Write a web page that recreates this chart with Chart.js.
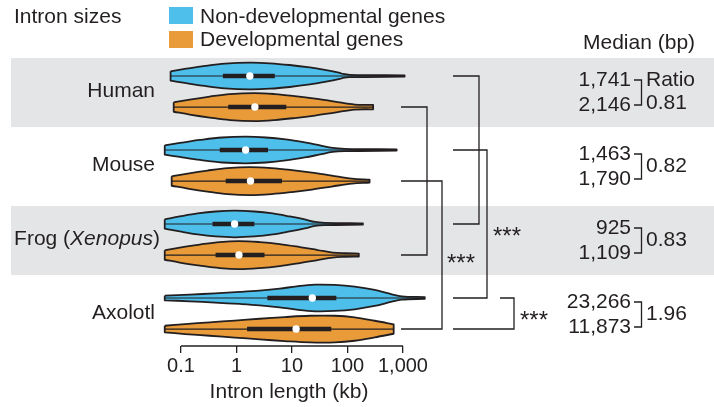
<!DOCTYPE html>
<html>
<head>
<meta charset="utf-8">
<script src="https://cdn.jsdelivr.net/npm/chart.js@4/dist/chart.umd.min.js"></script>
<style>
  html, body { margin: 0; padding: 0; background: #fff; }
  canvas { display: block; }
</style>
</head>
<body>
<canvas id="chart" width="714" height="407"></canvas>
<script>
const species = ['Human', 'Mouse', 'Frog', 'Axolotl'];
const medianNonDev = [1741, 1463, 925, 23266];
const medianDev = [2146, 1790, 1109, 11873];
const ratios = ['0.81', '0.82', '0.83', '1.96'];
const q1NonDev = [0.57, 0.50, 0.37, 3.6];
const q3NonDev = [4.9, 3.7, 2.1, 63];
const q1Dev = [0.71, 0.64, 0.42, 1.55];
const q3Dev = [7.9, 6.6, 3.2, 51];
const tickValues = [0.1, 1, 10, 100, 1000];
const tickLabels = ['0.1', '1', '10', '100', '1,000'];

// violin outlines: intron length (kb) and half width
const humanNdKb = [0.065, 0.117, 0.27, 0.62, 1.74, 4.0, 9.1, 21, 39, 73, 83, 110, 1070];
const humanNdDen = [4.7, 7, 10, 12.3, 13.3, 12.7, 11, 8.5, 6, 3, 2, 1.2, 0.6];
const humanDevKb = [0.074, 0.144, 0.33, 0.76, 2.14, 4.9, 11.2, 26, 59, 135, 290];
const humanDevDen = [4.7, 7.5, 10.5, 13, 14, 13, 11, 8.5, 5.5, 2.5, 2.2];
const mouseNdKb = [0.051, 0.095, 0.22, 0.55, 1.47, 3.4, 7.7, 17, 32, 54, 89, 770];
const mouseNdDen = [4.7, 7, 10, 12.5, 13.3, 12.5, 10.5, 7.5, 4.5, 2, 1.2, 0.6];
const mouseDevKb = [0.068, 0.132, 0.30, 0.69, 1.74, 4.3, 10, 23, 52, 120, 250];
const mouseDevDen = [4.7, 7.5, 10.5, 13, 14, 13, 11, 8.5, 5.5, 2.5, 1.5];
const frogNdKb = [0.051, 0.095, 0.2, 0.42, 0.93, 2.1, 4.5, 9.1, 17, 26, 39, 190];
const frogNdDen = [4.7, 7.5, 10.5, 12.5, 13.3, 12.5, 10.5, 7.5, 4.5, 2, 1.2, 0.6];
const frogDevKb = [0.051, 0.095, 0.22, 0.5, 1.11, 2.6, 6.0, 13.8, 29, 54, 89, 160];
const frogDevDen = [4.7, 7.5, 10.5, 13, 14, 13, 11, 8, 5, 2.5, 1.8, 1.5];
const axNdKb = [0.051, 0.145, 0.41, 1.15, 2.6, 6.0, 12.2, 26, 59, 135, 310, 630, 950, 2470];
const axNdDen = [2.3, 3.3, 4.7, 6, 7.3, 9.3, 11.7, 13.3, 13, 11.3, 8, 3.7, 1.7, 0.8];
const axDevKb = [0.051, 0.118, 0.33, 0.93, 2.6, 7.4, 21, 59, 135, 310, 680];
const axDevDen = [3.3, 5, 6.7, 8.5, 10.3, 12, 13.3, 13.3, 11.7, 8.3, 4.7];

const ndShapes = [[humanNdKb, humanNdDen], [mouseNdKb, mouseNdDen], [frogNdKb, frogNdDen], [axNdKb, axNdDen]];
const devShapes = [[humanDevKb, humanDevDen], [mouseDevKb, mouseDevDen], [frogDevKb, frogDevDen], [axDevKb, axDevDen]];

const BLUE = '#4ebfeb';
const ORANGE = '#e99b3a';
const INK = '#231f20';
const FONT = "'Liberation Sans', Arial, sans-serif";
const FS = 21;           // text size
const DEN = 1 / 74;      // half width -> row units
const OFF = 0.21;        // distance of each violin from species row

function rowY(i, dev) {
  return i + (dev ? OFF : -OFF);
}

let datasets = [];

function addViolin(kb, den, y, color, q1, q3, med) {
  const up = kb.map((k, j) => ({x: k, y: y - den[j] * DEN}));
  const lo = kb.map((k, j) => ({x: k, y: y + den[j] * DEN})).reverse();
  const n = up.length - 1;
  // doubled corner points keep the curve from overshooting the flat ends
  const pts = [up[0], ...up, up[n], lo[0], ...lo, lo[n], up[0]];
  datasets.push({
    data: pts, showLine: true, fill: 'shape', backgroundColor: color,
    borderColor: INK, borderWidth: 1.8, borderJoinStyle: 'round',
    pointRadius: 0, tension: 0.35, order: 4
  });
  datasets.push({
    data: [{x: kb[0], y: y}, {x: kb[n], y: y}], showLine: true,
    borderColor: INK, borderWidth: 1.2, pointRadius: 0, order: 3
  });
  datasets.push({
    data: [{x: q1, y: y}, {x: q3, y: y}], showLine: true, borderCapStyle: 'butt',
    borderColor: INK, borderWidth: 4.5, pointRadius: 0, order: 2
  });
  datasets.push({
    data: [{x: med / 1000, y: y}], pointRadius: 3.7, pointBackgroundColor: '#fff',
    pointBorderWidth: 0, order: 1
  });
}

for (let i = 0; i < species.length; i++) {
  addViolin(ndShapes[i][0], ndShapes[i][1], rowY(i, false), BLUE, q1NonDev[i], q3NonDev[i], medianNonDev[i]);
  addViolin(devShapes[i][0], devShapes[i][1], rowY(i, true), ORANGE, q1Dev[i], q3Dev[i], medianDev[i]);
}

function txt(ctx, s, x, y, align, size, style) {
  ctx.font = (style || '') + ' ' + (size || FS) + 'px ' + FONT;
  ctx.textAlign = align || 'left';
  ctx.textBaseline = 'middle';
  ctx.fillStyle = INK;
  ctx.fillText(s, x, y);
}

const decor = {
  id: 'decor',
  beforeDraw(chart) {
    const {ctx} = chart;
    const y = chart.scales.y;
    ctx.save();
    ctx.fillStyle = '#fff';
    ctx.fillRect(0, 0, chart.width, chart.height);
    ctx.fillStyle = '#e4e5e6';
    [0, 2].forEach(i => {
      const t = y.getPixelForValue(i - 0.453);
      const b = y.getPixelForValue(i + 0.48);
      ctx.fillRect(11, t, chart.width - 11, b - t);
    });
    ctx.restore();
  },
  afterDraw(chart) {
    const {ctx, chartArea} = chart;
    const x = chart.scales.x;
    const y = chart.scales.y;
    ctx.save();
    ctx.strokeStyle = INK;
    ctx.lineWidth = 1.3;

    // axis line only between 0.1 and 1,000
    ctx.beginPath();
    ctx.moveTo(x.getPixelForValue(tickValues[0]), chartArea.bottom);
    ctx.lineTo(x.getPixelForValue(tickValues[tickValues.length - 1]), chartArea.bottom);
    ctx.stroke();

    // species names
    for (let i = 0; i < species.length; i++) {
      const cy = y.getPixelForValue(i);
      if (species[i] === 'Frog') {
        ctx.font = FS + 'px ' + FONT;
        const w1 = ctx.measureText('Frog (').width;
        const w3 = ctx.measureText(')').width;
        ctx.font = 'italic ' + FS + 'px ' + FONT;
        const w2 = ctx.measureText('Xenopus').width;
        const x0 = 160 - w1 - w2 - w3;
        txt(ctx, 'Frog (', x0, cy);
        txt(ctx, 'Xenopus', x0 + w1, cy, 'left', FS, 'italic');
        txt(ctx, ')', x0 + w1 + w2, cy);
      } else {
        txt(ctx, species[i], 155, cy, 'right');
      }
    }

    // legend
    txt(ctx, 'Intron sizes', 14, 17.5);
    ctx.fillStyle = BLUE;
    ctx.fillRect(169, 7, 24, 17);
    ctx.fillStyle = ORANGE;
    ctx.fillRect(169, 31, 24, 17);
    txt(ctx, 'Non-developmental genes', 200, 17.5);
    txt(ctx, 'Developmental genes', 200, 40.5);

    // medians and ratios
    txt(ctx, 'Median (bp)', 583, 43.5);
    for (let i = 0; i < species.length; i++) {
      const cy = y.getPixelForValue(i) + 1;
      const yt = cy - 12.5, yb = cy + 12.5;
      txt(ctx, medianNonDev[i].toLocaleString('en-US'), 631, yt, 'right');
      txt(ctx, medianDev[i].toLocaleString('en-US'), 631, yb, 'right');
      ctx.beginPath();
      ctx.moveTo(634, yt); ctx.lineTo(641.5, yt); ctx.lineTo(641.5, yb); ctx.lineTo(634, yb);
      ctx.stroke();
      if (i === 0) {
        txt(ctx, 'Ratio', 646, yt);
        txt(ctx, ratios[i], 646, yb - 1.5);
      } else {
        txt(ctx, ratios[i], 646, cy);
      }
    }

    // significance brackets
    const brackets = [
      {a: [0, true], b: [2, true], xa: 401, xb: 401, x1: 427},
      {a: [1, true], b: [3, true], xa: 401, xb: 401, x1: 442, star: [447, 259]},
      {a: [0, false], b: [2, false], xa: 453, xb: 453, x1: 479},
      {a: [1, false], b: [3, false], xa: 453, xb: 453, x1: 487, star: [493, 232]},
      {a: [3, false], b: [3, true], xa: 500, xb: 453, x1: 514, star: [520, 316]}
    ];
    brackets.forEach(br => {
      const ya = Math.round(y.getPixelForValue(rowY(br.a[0], br.a[1])));
      const yb = Math.round(y.getPixelForValue(rowY(br.b[0], br.b[1])));
      ctx.beginPath();
      ctx.moveTo(br.xa, ya); ctx.lineTo(br.x1, ya); ctx.lineTo(br.x1, yb); ctx.lineTo(br.xb, yb);
      ctx.stroke();
      if (br.star) txt(ctx, '***', br.star[0], br.star[1] + 5, 'left', 24);
    });

    // axis title
    txt(ctx, 'Intron length (kb)', 289, 392, 'center');
    ctx.restore();
  }
};

new Chart(document.getElementById('chart'), {
  type: 'scatter',
  data: { datasets: datasets },
  options: {
    responsive: false,
    animation: false,
    devicePixelRatio: 1,
    layout: { padding: { left: 160, right: 284, top: 58, bottom: 0 } },
    plugins: { legend: { display: false }, tooltip: { enabled: false } },
    scales: {
      x: {
        type: 'logarithmic',
        min: 0.0419,
        max: 3069,
        afterBuildTicks: (scale) => { scale.ticks = tickValues.map(v => ({ value: v })); },
        afterFit: (scale) => { scale.height = 61; },
        border: { display: false },
        grid: { drawOnChartArea: false, tickLength: 7, color: INK, lineWidth: 1.3 },
        ticks: {
          autoSkip: false, maxRotation: 0, padding: 1, color: INK,
          font: { size: 20, family: FONT },
          callback: (v) => { const k = tickValues.indexOf(v); return k >= 0 ? tickLabels[k] : ''; }
        }
      },
      y: {
        type: 'linear',
        display: false,
        reverse: true,
        min: -0.453,
        max: 3.439
      }
    }
  },
  plugins: [decor]
});
</script>
</body>
</html>
